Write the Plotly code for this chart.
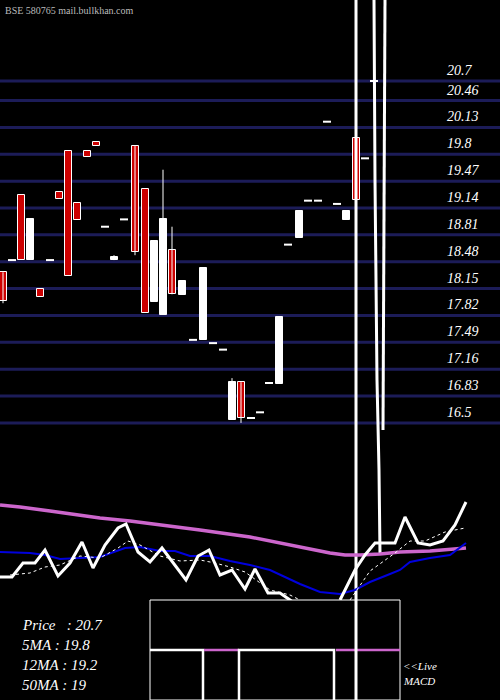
import plotly.graph_objects as go

# candles: x position, open, high, low, close (price units)
cx = [3, 12, 21, 30, 40, 50, 59, 68, 77, 87, 96, 105, 114, 124, 135, 145, 154, 163, 172, 182,
      193, 203, 213, 223, 232, 241, 251, 260, 269, 279, 288, 299, 308, 318, 327, 337, 346, 356, 365, 374]
c_open = [18.35, 18.50, 19.30, 18.50, 18.14, 18.50, 19.34, 19.84, 19.20, 19.84, 19.95, 18.91, 18.50, 19.00,
          19.90, 19.37, 17.99, 17.83, 18.62, 18.07, 17.52, 17.52, 17.48, 17.40, 16.54, 17.00, 16.56, 16.63,
          16.99, 16.98, 18.69, 18.77, 19.23, 19.23, 20.20, 19.19, 18.99, 20.00, 19.75, 20.70]
c_close = [18.00, 18.50, 18.50, 19.00, 18.05, 18.50, 19.25, 18.30, 18.99, 19.77, 19.90, 18.91, 18.54, 19.00,
           18.60, 17.85, 18.73, 19.00, 18.08, 18.24, 17.52, 18.40, 17.48, 17.40, 17.00, 16.56, 16.56, 16.63,
           16.99, 17.80, 18.69, 19.10, 19.23, 19.23, 20.20, 19.19, 19.10, 19.24, 19.75, 20.70]
c_high = [18.35, 18.50, 19.30, 19.00, 18.14, 18.50, 19.34, 19.84, 19.20, 19.84, 19.95, 18.91, 18.56, 19.00,
          19.90, 19.37, 18.73, 19.61, 18.91, 18.24, 17.52, 18.40, 17.48, 17.40, 17.05, 17.00, 16.56, 16.63,
          16.99, 17.80, 18.69, 19.10, 19.23, 19.23, 20.20, 19.19, 19.10, 20.00, 19.75, 20.70]
c_low = [17.97, 18.50, 18.50, 18.50, 18.05, 18.50, 19.25, 18.30, 18.99, 19.77, 19.90, 18.91, 18.50, 19.00,
         18.56, 17.85, 17.99, 17.83, 18.08, 18.07, 17.52, 17.52, 17.48, 17.40, 16.54, 16.50, 16.56, 16.63,
         16.99, 16.98, 18.69, 18.77, 19.23, 19.23, 20.20, 19.19, 18.99, 19.24, 19.75, 20.70]

price_levels = [20.7, 20.46, 20.13, 19.8, 19.47, 19.14, 18.81, 18.48, 18.15, 17.82, 17.49, 17.16, 16.83, 16.5]

# lower panel (screen-like units, 0 at top)
ma50_x = [0, 20, 50, 100, 130, 170, 200, 250, 300, 330, 345, 360, 380, 400, 430, 466]
ma50_y = [505, 507, 511, 518, 521, 526, 530, 537, 547, 553, 555, 555, 554, 552, 551, 548]
ma12_x = [0, 30, 45, 60, 80, 100, 125, 140, 160, 175, 190, 210, 230, 250, 270, 300, 320, 340, 355, 370,
          390, 400, 410, 430, 450, 466]
ma12_y = [552, 553, 555, 559, 558, 557, 548, 547, 551, 551, 556, 556, 561, 565, 570, 584, 592, 594, 590, 582,
          574, 570, 562, 558, 555, 543]
pr_x = [0, 12, 23, 35, 45, 58, 70, 82, 93, 105, 118, 126, 138, 150, 162, 174, 186, 198, 209, 220, 232, 245,
        255, 268, 280, 290, 300, None, 340, 355, 365, 375, 395, 405, 418, 430, 443, 455, 466]
pr_y = [577, 577, 563, 563, 550, 576, 563, 542, 568, 545, 528, 524, 552, 562, 548, 564, 580, 556, 550, 575,
        570, 589, 569, 593, 593, 600, 608, None, 600, 570, 555, 543, 543, 517, 543, 545, 541, 525, 502]
ma5_x = [10, 30, 45, 60, 80, 100, 118, 128, 140, 160, 180, 200, 215, 230, 245, 260, 270, 290, 300, None,
         350, 370, 395, 410, 425, 445, 465]
ma5_y = [575, 573, 567, 565, 556, 558, 548, 541, 545, 556, 561, 560, 563, 567, 572, 583, 590, 595, 600, None,
         600, 571, 553, 541, 541, 532, 528]

info = ["Price   : 20.7", "5MA : 19.8", "12MA : 19.2", "50MA : 19"]

serif = dict(family="Liberation Serif", color="white", style="italic")

fig = go.Figure()

# wicks
wx, wy, dx, dy = [], [], [], []
for x, o, h, l, c in zip(cx, c_open, c_high, c_low, c_close):
    if h > max(o, c) or l < min(o, c):
        wx += [x, x, None]
        wy += [l, h, None]
    if o == c:
        dx += [x - 4, x + 4, None]
        dy += [o, o, None]
fig.add_trace(go.Scatter(x=wx, y=wy, mode="lines", line=dict(color="white", width=1),
                         showlegend=False, hoverinfo="skip"))
fig.add_trace(go.Scatter(x=dx, y=dy, mode="lines", line=dict(color="white", width=2),
                         showlegend=False, hoverinfo="skip"))

# bodies
bx = [x for x, o, c in zip(cx, c_open, c_close) if o != c]
bbase = [min(o, c) for o, c in zip(c_open, c_close) if o != c]
bh = [abs(c - o) for o, c in zip(c_open, c_close) if o != c]
bcol = ["white" if c > o else "#cc0000" for o, c in zip(c_open, c_close) if o != c]
fig.add_trace(go.Bar(x=bx, y=bh, base=bbase, width=7, marker=dict(color=bcol, line=dict(color="white", width=1)),
                     showlegend=False, hoverinfo="skip"))

# big vertical MACD-style lines
for xs, ys in [([356, 356], [0, 700]),
               ([374, 375, 377, 379, 380], [0, 180, 380, 470, 553]),
               ([385, 384, 383], [0, 280, 430])]:
    fig.add_trace(go.Scatter(x=xs, y=ys, yaxis="y2", mode="lines", line=dict(color="white", width=3),
                             showlegend=False, hoverinfo="skip"))

fig.add_trace(go.Scatter(x=ma50_x, y=ma50_y, yaxis="y2", mode="lines",
                         line=dict(color="#cc66cc", width=3.5), showlegend=False))
fig.add_trace(go.Scatter(x=ma12_x, y=ma12_y, yaxis="y2", mode="lines",
                         line=dict(color="#0000dd", width=2), showlegend=False))
fig.add_trace(go.Scatter(x=ma5_x, y=ma5_y, yaxis="y2", mode="lines",
                         line=dict(color="white", width=1, dash="dot"), showlegend=False))
fig.add_trace(go.Scatter(x=pr_x, y=pr_y, yaxis="y2", mode="lines",
                         line=dict(color="white", width=3), showlegend=False))

# MACD box
fig.add_trace(go.Scatter(x=[150, 400, 400, 150, 150], y=[600, 600, 700, 700, 600], yaxis="y2", mode="lines",
                         fill="toself", fillcolor="black", line=dict(color="white", width=1),
                         showlegend=False))
for xs, ys, col in [([150, 203, 203], [650, 650, 700], "white"),
                    ([204, 239], [650, 650], "#cc66cc"),
                    ([239, 239, 334, 334], [700, 650, 650, 700], "white"),
                    ([336, 400], [650, 650], "#cc66cc")]:
    fig.add_trace(go.Scatter(x=xs, y=ys, yaxis="y2", mode="lines", line=dict(color=col, width=2.5),
                             showlegend=False))
fig.add_trace(go.Scatter(x=[356, 356], y=[600, 700], yaxis="y2", mode="lines", line=dict(color="white", width=3),
                         showlegend=False, hoverinfo="skip"))

shapes = [dict(type="line", xref="paper", x0=0, x1=1, yref="y", y0=p, y1=p,
               line=dict(color="#1c1c58", width=3), layer="below") for p in price_levels]
annotations = [dict(x=445, y=p, yref="y", xanchor="left", yanchor="bottom", yshift=1, text=str(p),
                    showarrow=False, font=dict(size=14, **serif)) for p in price_levels]
annotations.append(dict(x=3, y=10, yref="y2", xanchor="left", yanchor="middle", text="BSE 580765 mail.bullkhan.com",
                        showarrow=False, font=dict(size=10, family="Liberation Serif", color="#bbbbbb")))
for i, t in enumerate(info):
    annotations.append(dict(x=20, y=625 + 20 * i, yref="y2", xanchor="left", yanchor="middle", text=t,
                            showarrow=False, font=dict(size=15, **serif)))
annotations.append(dict(x=401, y=666, yref="y2", xanchor="left", yanchor="middle", text="<<Live",
                        showarrow=False, font=dict(size=11, **serif)))
annotations.append(dict(x=401, y=681, yref="y2", xanchor="left", yanchor="middle", text="MACD",
                        showarrow=False, font=dict(size=11, **serif)))

fig.update_layout(
    width=500, height=700, margin=dict(l=0, r=0, t=0, b=0),
    paper_bgcolor="black", plot_bgcolor="black", bargap=0,
    xaxis=dict(range=[0, 500], visible=False),
    yaxis=dict(range=[13.096, 21.695], visible=False),
    yaxis2=dict(range=[700, 0], overlaying="y", visible=False),
    shapes=shapes, annotations=annotations)

fig.write_html("out.html", config={"displayModeBar": False},
               post_script="document.body.style.margin='0';")
